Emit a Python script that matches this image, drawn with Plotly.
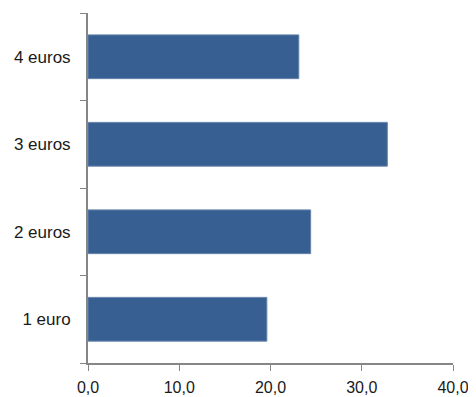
import plotly.graph_objects as go

categories = ["1 euro", "2 euros", "3 euros", "4 euros"]
values = [19.6, 24.4, 32.8, 23.1]
x_ticks = [0, 10, 20, 30, 40]

BAR_COLOR = "#375F91"
AXIS_COLOR = "#868686"
FONT = dict(family="Arial, Liberation Sans, sans-serif", size=17, color="#1a1a1a")

fig = go.Figure(go.Bar(
    x=values,
    y=categories,
    orientation="h",
    width=0.5,
    marker=dict(color=BAR_COLOR, line=dict(color="#6584ab", width=1)),
    hoverinfo="x+y",
))

# page body has an 8px margin, so the figure is a bit smaller than the window
fig.update_layout(
    width=468,
    height=389,
    separators=", ",
    plot_bgcolor="white",
    paper_bgcolor="white",
    font=FONT,
    margin=dict(l=80, r=23, t=5, b=34),
    showlegend=False,
    xaxis=dict(
        range=[0, 40],
        tickvals=x_ticks,
        tickformat=".1f",
        tickfont=dict(size=16),
        automargin=False,
        showgrid=False,
        zeroline=False,
        showline=True,
        linecolor=AXIS_COLOR,
        linewidth=2,
        ticks="outside",
        ticklen=6,
        tickwidth=1,
        tickcolor=AXIS_COLOR,
        ticklabelstandoff=3,
    ),
    yaxis=dict(
        categoryorder="array",
        categoryarray=categories,
        tickson="boundaries",
        automargin=False,
        showgrid=False,
        zeroline=False,
        showline=True,
        linecolor=AXIS_COLOR,
        linewidth=2,
        ticks="outside",
        ticklen=6,
        tickwidth=1,
        tickcolor=AXIS_COLOR,
        ticklabelstandoff=12,
    ),
)

fig.write_html("out.html")
